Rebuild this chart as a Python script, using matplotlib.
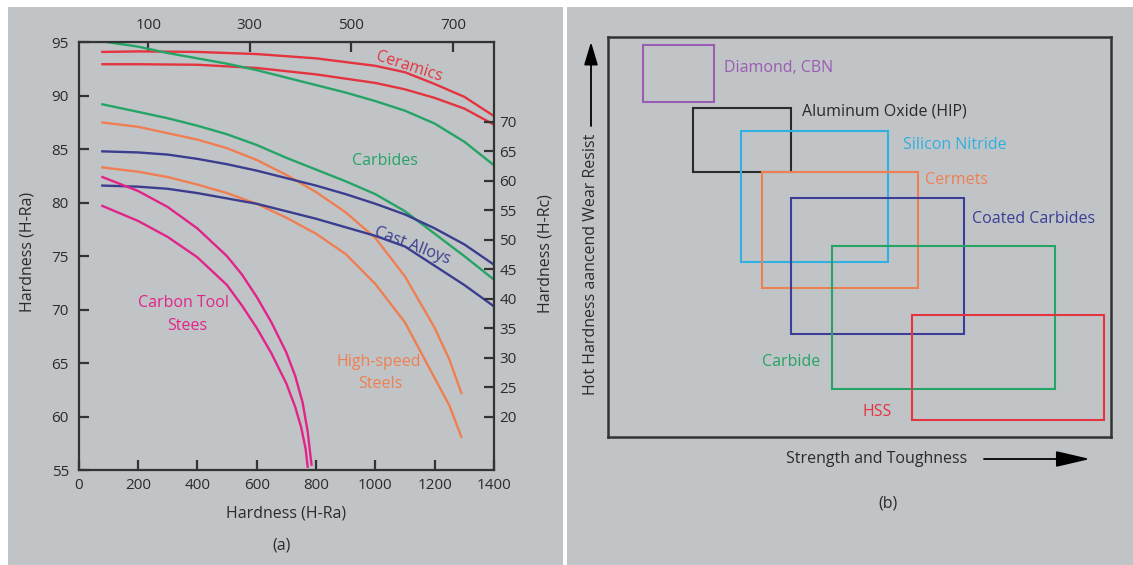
"""Tool material hardness vs temperature (a) and property map (b)."""

import matplotlib
matplotlib.use("Agg")
import matplotlib.pyplot as plt
from matplotlib.patches import Rectangle, FancyArrowPatch

plt.rcParams.update({
    'font.family': ['Open Sans', 'DejaVu Sans'],
    'font.size': 11,
    'text.color': '#2b2b2b',
    'axes.edgecolor': '#333333',
    'xtick.color': '#333333',
    'ytick.color': '#333333',
    'xtick.labelcolor': '#2b2b2b',
    'ytick.labelcolor': '#2b2b2b',
})

W, H = 1133, 565
BG = '#c1c4c7'

C_RED = '#e3343f'
C_GREEN = '#25a466'
C_ORANGE = '#ef7f52'
C_NAVY = '#3b3e8e'
C_MAGENTA = '#e2248a'

# ---- panel (a) data: bottom axis value vs H-Ra hardness ----
cer_hi_x = [80, 200, 400, 600, 800, 1000, 1100, 1200, 1300, 1400]
cer_hi_y = [94.1, 94.15, 94.1, 93.9, 93.5, 92.8, 92.2, 91.1, 89.9, 88.1]
cer_lo_x = [80, 200, 400, 600, 800, 1000, 1100, 1200, 1300, 1400]
cer_lo_y = [92.95, 92.95, 92.9, 92.6, 92.0, 91.2, 90.6, 89.8, 88.8, 87.3]

carb_hi_x = [100, 200, 300, 400, 500, 600, 700, 800, 900, 1000, 1100, 1200, 1300, 1400]
carb_hi_y = [95.0, 94.6, 94.0, 93.5, 93.0, 92.4, 91.7, 91.0, 90.3, 89.5, 88.6, 87.4, 85.7, 83.5]
carb_lo_x = [80, 200, 300, 400, 500, 600, 700, 800, 900, 1000, 1100, 1200, 1300, 1400]
carb_lo_y = [89.2, 88.5, 87.9, 87.2, 86.4, 85.4, 84.2, 83.1, 82.0, 80.8, 79.2, 77.1, 75.0, 72.8]

hss_hi_x = [80, 200, 300, 400, 500, 600, 700, 800, 900, 1000, 1100, 1200, 1250, 1290]
hss_hi_y = [87.5, 87.1, 86.5, 85.9, 85.1, 84.0, 82.6, 81.0, 79.1, 76.7, 73.1, 68.3, 65.3, 62.2]
hss_lo_x = [80, 200, 300, 400, 500, 600, 700, 800, 900, 1000, 1100, 1200, 1250, 1290]
hss_lo_y = [83.3, 82.9, 82.4, 81.7, 80.9, 79.9, 78.6, 77.1, 75.2, 72.4, 68.8, 63.6, 61.0, 58.1]

cast_hi_x = [80, 200, 300, 400, 500, 600, 700, 800, 900, 1000, 1100, 1200, 1300, 1400]
cast_hi_y = [84.8, 84.7, 84.5, 84.1, 83.6, 83.0, 82.3, 81.6, 80.8, 79.9, 78.9, 77.6, 76.1, 74.2]
cast_lo_x = [80, 200, 300, 400, 500, 600, 700, 800, 900, 1000, 1100, 1200, 1300, 1400]
cast_lo_y = [81.6, 81.5, 81.3, 80.9, 80.4, 79.9, 79.2, 78.5, 77.7, 76.9, 75.9, 74.1, 72.3, 70.3]

cts_hi_x = [80, 200, 300, 400, 500, 550, 600, 650, 700, 730, 755, 772, 785]
cts_hi_y = [82.4, 81.1, 79.6, 77.6, 75.0, 73.3, 71.2, 68.8, 66.0, 63.8, 61.3, 58.6, 55.5]
cts_lo_x = [80, 200, 300, 400, 500, 550, 600, 650, 700, 730, 750, 765, 772]
cts_lo_y = [79.7, 78.3, 76.8, 74.9, 72.3, 70.4, 68.3, 65.9, 63.1, 60.9, 59.0, 57.0, 55.3]

bottom_ticks = [0, 200, 400, 600, 800, 1000, 1200, 1400]
left_ticks = [55, 60, 65, 70, 75, 80, 85, 90, 95]
top_ticks = [100, 300, 500, 700]
rc_ticks = [20, 25, 30, 35, 40, 45, 50, 55, 60, 65, 70]

# ---- panel (b) data: boxes (x0, y0, width, height) on a 0-100 map ----
box_names = ['Diamond, CBN', 'Aluminum Oxide (HIP)', 'Silicon Nitride', 'Cermets',
             'Coated Carbides', 'Carbide', 'HSS']
box_x0 = [7.0, 16.9, 26.5, 30.6, 36.5, 44.5, 60.4]
box_y0 = [83.7, 66.3, 43.7, 37.2, 25.7, 12.0, 4.2]
box_w = [14.2, 19.6, 29.2, 31.0, 34.3, 44.4, 38.3]
box_h = [14.3, 15.9, 32.8, 29.1, 34.0, 35.8, 26.2]
box_colors = ['#9a5cb4', '#2a2a2a', '#2fb0e0', '#ef7f52', '#3b3e96', '#25a466', '#e3343f']
label_x = [23.1, 38.6, 58.7, 63.1, 72.4, 36.4, 53.5]
label_y = [92.2, 81.4, 73.0, 64.3, 54.4, 18.6, 6.3]
label_ha = ['left', 'left', 'left', 'left', 'left', 'center', 'center']


def fx(px):
    return px / W


def fy(py):
    return 1 - py / H


fig = plt.figure(figsize=(W / 100, H / 100), dpi=100, facecolor='white')

# gray panels behind both charts
fig.patches.append(Rectangle((fx(8), 0), fx(563) - fx(8), fy(7), transform=fig.transFigure,
                             facecolor=BG, edgecolor='none', zorder=-10))
fig.patches.append(Rectangle((fx(567), 0), 1 - fx(567), fy(7), transform=fig.transFigure,
                             facecolor=BG, edgecolor='none', zorder=-10))

# ================= panel (a) =================
ax = fig.add_axes([fx(78.6), fy(470), fx(494) - fx(78.6), fy(42.3) - fy(470)])
ax.set_facecolor('none')
ax.set_xlim(0, 1400)
ax.set_ylim(55, 95)

lw = 1.7
ax.plot(cer_hi_x, cer_hi_y, color=C_RED, lw=lw)
ax.plot(cer_lo_x, cer_lo_y, color=C_RED, lw=lw)
ax.plot(carb_hi_x, carb_hi_y, color=C_GREEN, lw=lw)
ax.plot(carb_lo_x, carb_lo_y, color=C_GREEN, lw=lw)
ax.plot(hss_hi_x, hss_hi_y, color=C_ORANGE, lw=lw)
ax.plot(hss_lo_x, hss_lo_y, color=C_ORANGE, lw=lw)
ax.plot(cast_hi_x, cast_hi_y, color=C_NAVY, lw=lw)
ax.plot(cast_lo_x, cast_lo_y, color=C_NAVY, lw=lw)
ax.plot(cts_hi_x, cts_hi_y, color=C_MAGENTA, lw=lw)
ax.plot(cts_lo_x, cts_lo_y, color=C_MAGENTA, lw=lw)

ax.text(1113, 92.66, 'Ceramics', color=C_RED, rotation=-18, ha='center', va='center', fontsize=11.5)
ax.text(1033, 83.9, 'Carbides', color=C_GREEN, ha='center', va='center', fontsize=11.5)
ax.text(1123, 76.0, 'Cast Alloys', color=C_NAVY, rotation=-21, ha='center', va='center', fontsize=11.5)
ax.text(355, 70.6, 'Carbon Tool', color=C_MAGENTA, ha='center', va='center', fontsize=11.5)
ax.text(365, 68.5, 'Stees', color=C_MAGENTA, ha='center', va='center', fontsize=11.5)
ax.text(1010, 65.1, 'High-speed', color=C_ORANGE, ha='center', va='center', fontsize=11.5)
ax.text(1016, 63.0, 'Steels', color=C_ORANGE, ha='center', va='center', fontsize=11.5)

for s in ax.spines.values():
    s.set_linewidth(1.6)
ax.set_xticks(bottom_ticks)
ax.set_yticks(left_ticks)
ax.tick_params(direction='in', length=7, width=1.6, labelsize=11)
ax.tick_params(axis='x', pad=6)
ax.tick_params(axis='y', pad=7)

top = ax.secondary_xaxis('top', functions=(lambda v: -37 + 0.5843 * v,
                                           lambda v: (v + 37) / 0.5843))
top.set_xticks(top_ticks)
top.tick_params(direction='in', length=7, width=1.6, labelsize=11, pad=7)

rc = ax.twinx()
rc.set_ylim(10.97, 83.46)
rc.set_yticks(rc_ticks)
rc.tick_params(direction='in', length=7, width=1.6, labelsize=11, pad=4)
for s in rc.spines.values():
    s.set_visible(False)

fig.text(fx(286), fy(513), 'Hardness (H-Ra)', ha='center', va='center', fontsize=11.5)
fig.text(fx(282), fy(546), '(a)', ha='center', va='center', fontsize=11.5)
fig.text(fx(27), fy(252), 'Hardness (H-Ra)', rotation=90, ha='center', va='center', fontsize=11.5)
fig.text(fx(545), fy(254), 'Hardness (H-Rc)', rotation=90, ha='center', va='center', fontsize=11.5)

# ================= panel (b) =================
bx = fig.add_axes([fx(607.5), fy(436.7), fx(1111) - fx(607.5), fy(37.3) - fy(436.7)])
bx.set_facecolor('none')
bx.set_xlim(0, 100)
bx.set_ylim(0, 100)
bx.set_xticks([])
bx.set_yticks([])
for s in bx.spines.values():
    s.set_linewidth(1.8)
    s.set_color('#333333')

for name, x0, y0, w, h, c, lx, ly, ha in zip(box_names, box_x0, box_y0, box_w, box_h,
                                            box_colors, label_x, label_y, label_ha):
    bx.add_patch(Rectangle((x0, y0), w, h, facecolor='none', edgecolor=c, lw=1.5))
    bx.text(lx, ly, name, color=c, ha=ha, va='center', fontsize=11.5)

fig.text(fx(877), fy(459), 'Strength and Toughness', ha='center', va='center', fontsize=11.5)
fig.text(fx(888), fy(504), '(b)', ha='center', va='center', fontsize=11.5)
fig.text(fx(591), fy(264), 'Hot Hardness aancend Wear Resist', rotation=90,
         ha='center', va='center', fontsize=11.5)

fig.add_artist(FancyArrowPatch((fx(984), fy(459)), (fx(1090), fy(459)),
                               transform=fig.transFigure,
                               arrowstyle='-|>,head_length=1.5,head_width=0.35',
                               mutation_scale=14, color='black', lw=1.3,
                               shrinkA=0, shrinkB=0))
fig.add_artist(FancyArrowPatch((fx(591), fy(126)), (fx(591), fy(42)),
                               transform=fig.transFigure,
                               arrowstyle='-|>,head_length=1.0,head_width=0.3',
                               mutation_scale=14, color='black', lw=1.3,
                               shrinkA=0, shrinkB=0))

fig.savefig('out.png', dpi=100, facecolor='white')
